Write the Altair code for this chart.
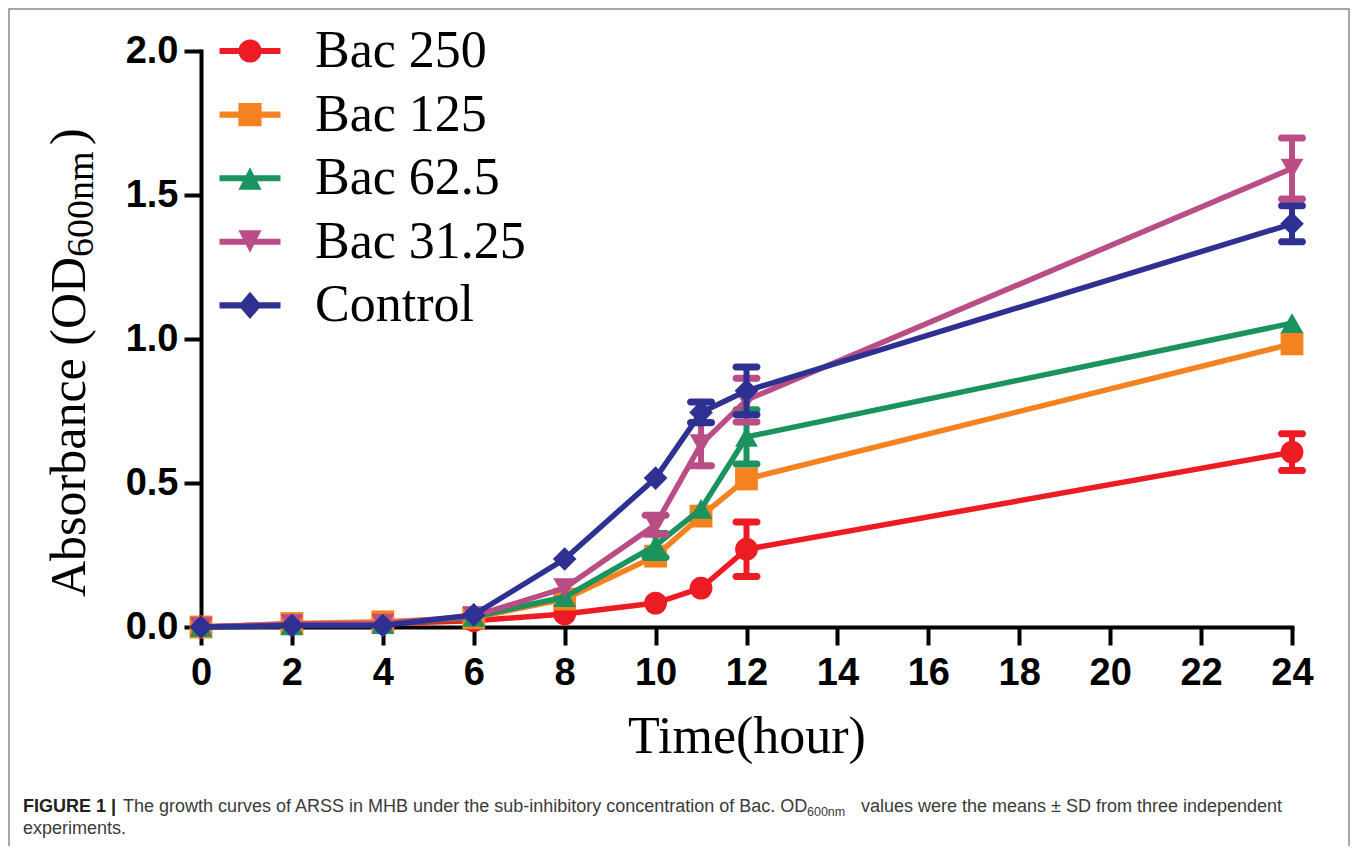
import altair as alt
import pandas as pd

# ---------------- data ----------------
time_h = [0, 2, 4, 6, 8, 10, 11, 12, 24]
series_names = ["Bac 250", "Bac 125", "Bac 62.5", "Bac 31.25", "Control"]

bac250 = [0.0, 0.010, 0.012, 0.022, 0.045, 0.083, 0.135, 0.270, 0.607]
bac250_sd = [0, 0, 0, 0, 0, 0, 0, 0.095, 0.064]
bac125 = [0.0, 0.012, 0.018, 0.032, 0.097, 0.246, 0.385, 0.514, 0.983]
bac125_sd = [0, 0, 0, 0, 0, 0, 0, 0, 0]
bac62 = [0.0, 0.006, 0.010, 0.035, 0.104, 0.283, 0.410, 0.660, 1.055]
bac62_sd = [0, 0, 0, 0, 0, 0.042, 0, 0.094, 0]
bac31 = [0.0, 0.010, 0.012, 0.038, 0.135, 0.355, 0.635, 0.788, 1.592]
bac31_sd = [0, 0, 0, 0, 0, 0.033, 0.075, 0.076, 0.106]
control = [0.0, 0.005, 0.005, 0.042, 0.236, 0.517, 0.745, 0.820, 1.400]
control_sd = [0, 0, 0, 0, 0, 0, 0.036, 0.083, 0.0625]

x_ticks = list(range(0, 25, 2))
y_ticks = [0.0, 0.5, 1.0, 1.5, 2.0]

colors = ["#ED1C24", "#F58220", "#1A935E", "#BA4D86", "#2E3192"]
shapes = ["circle", "square", "triangle-up", "triangle-down", "diamond"]

# legend glyphs: line + marker (unit square paths)
bar = "M-1,-0.1 H1 V0.1 H-1 Z "
r = 0.38
legend_paths = [
    bar + f"M{r},0 A{r},{r} 0 1,1 {-r},0 A{r},{r} 0 1,1 {r},0 Z",
    bar + f"M{-r},{-r} H{r} V{r} H{-r} Z",
    bar + f"M0,-0.36 L{r},0.38 L{-r},0.38 Z",
    bar + f"M{-r},-0.38 L{r},-0.38 L0,0.36 Z",
    bar + f"M0,-0.45 L{r},0 L0,0.45 L{-r},0 Z",
]

values = [bac250, bac125, bac62, bac31, control]
sds = [bac250_sd, bac125_sd, bac62_sd, bac31_sd, control_sd]

rows = []
for name, vals, sd in zip(series_names, values, sds):
    for t, v, s in zip(time_h, vals, sd):
        rows.append({"series": name, "t": t, "od": v, "sd": s, "lo": v - s, "hi": v + s})
df = pd.DataFrame(rows)
one = pd.DataFrame({"k": [0]})

# ---------------- scales / encodings ----------------
xs = alt.Scale(domain=[0, 24], nice=False, zero=False)
ys = alt.Scale(domain=[0, 2], nice=False)
x_axis = alt.Axis(values=x_ticks, format="d", title="Time(hour)", labelFlush=False,
                  titleFont="Liberation Serif", titleFontSize=52, titleFontWeight="normal",
                  titleColor="black", titleBaseline="alphabetic", titleY=125,
                  tickSize=18, labelPadding=9)
y_axis = alt.Axis(values=y_ticks, format=".1f", title=None, tickSize=17, labelPadding=6,
                  labelFlush=False)
X = alt.X("t:Q", scale=xs, axis=x_axis)
Y = alt.Y("od:Q", scale=ys, axis=y_axis)

layers = []

# frame around the whole figure
layers.append(alt.Chart(one).mark_rect(fill=None, stroke="#8a8a8a", strokeWidth=1.5).encode(
    x=alt.value(-192), x2=alt.value(1148), y=alt.value(-42), y2=alt.value(830)))

for name, col, shp in zip(series_names, colors, shapes):
    base = alt.Chart(df).transform_filter(alt.datum.series == name)
    eb = base.transform_filter("datum.sd > 0")
    layers.append(eb.mark_rule(strokeWidth=6, color=col).encode(
        x=X, y=alt.Y("lo:Q", scale=ys, axis=y_axis), y2="hi:Q"))
    layers.append(eb.mark_tick(orient="horizontal", size=28, thickness=7, cornerRadius=3.5,
                               color=col, opacity=1).encode(
        x=X, y=alt.Y("lo:Q", scale=ys, axis=y_axis)))
    layers.append(eb.mark_tick(orient="horizontal", size=28, thickness=7, cornerRadius=3.5,
                               color=col, opacity=1).encode(
        x=X, y=alt.Y("hi:Q", scale=ys, axis=y_axis)))
    layers.append(base.mark_line(strokeWidth=5.5, color=col).encode(x=X, y=Y))
    layers.append(base.mark_point(shape=shp, filled=True, size=560 if shp == "diamond" else 520,
                                  color=col, opacity=1).encode(x=X, y=Y))

# legend (from an empty layer; entries come from the explicit scale domain)
leg = alt.Legend(title=None, orient="none", legendX=18.5, legendY=-30.5, padding=0,
                 symbolSize=3721, symbolStrokeWidth=0, symbolOpacity=1,
                 labelFont="Liberation Serif", labelFontSize=52, labelColor="black",
                 labelOffset=34.5, labelLimit=500, rowPadding=6.6)
layers.append(alt.Chart(df).transform_filter("datum.t < 0").mark_point(filled=True, opacity=1).encode(
    x=X, y=Y,
    fill=alt.Fill("series:N", scale=alt.Scale(domain=series_names, range=colors), legend=leg),
    shape=alt.Shape("series:N", scale=alt.Scale(domain=series_names, range=legend_paths), legend=leg),
))

# y-axis title with subscript
layers.append(alt.Chart(one).mark_text(text="Absorbance (OD", font="Liberation Serif", fontSize=50,
                                       angle=270, align="left", baseline="alphabetic", color="black").encode(
    x=alt.value(-116), y=alt.value(546)))
layers.append(alt.Chart(one).mark_text(text="600nm", font="Liberation Serif", fontSize=38,
                                       angle=270, align="left", baseline="alphabetic", color="black").encode(
    x=alt.value(-108), y=alt.value(206)))
layers.append(alt.Chart(one).mark_text(text=")", font="Liberation Serif", fontSize=50,
                                       angle=270, align="left", baseline="alphabetic", color="black").encode(
    x=alt.value(-116), y=alt.value(94)))

# caption
cap_font = "Liberation Sans"
layers.append(alt.Chart(one).mark_text(text="FIGURE 1 |", font=cap_font, fontSize=18, fontWeight="bold",
                                       align="left", baseline="alphabetic", color="#222222").encode(
    x=alt.value(-178), y=alt.value(761)))
layers.append(alt.Chart(one).mark_text(
    text="The growth curves of ARSS in MHB under the sub-inhibitory concentration of Bac. OD",
    font=cap_font, fontSize=18, align="left", baseline="alphabetic", color="#3a3a3a").encode(
    x=alt.value(-78), y=alt.value(761)))
layers.append(alt.Chart(one).mark_text(text="600nm", font=cap_font, fontSize=12.5, align="left",
                                       baseline="alphabetic", color="#3a3a3a").encode(
    x=alt.value(606), y=alt.value(765)))
layers.append(alt.Chart(one).mark_text(
    text="values were the means \u00b1 SD from three independent",
    font=cap_font, fontSize=18, align="left", baseline="alphabetic", color="#3a3a3a").encode(
    x=alt.value(660), y=alt.value(761)))
layers.append(alt.Chart(one).mark_text(text="experiments.", font=cap_font, fontSize=18, align="left",
                                       baseline="alphabetic", color="#3a3a3a").encode(
    x=alt.value(-178), y=alt.value(783)))

chart = alt.layer(*layers).properties(
    width=1091, height=576,
    autosize=alt.AutoSizeParams(type="none"),
    padding={"left": 193, "top": 43, "right": 58, "bottom": 219},
    background="white",
).configure_view(stroke=None).configure_axis(
    grid=False, domainColor="black", domainWidth=4, domainCap="square",
    tickColor="black", tickWidth=4, labelFont="Liberation Sans", labelFontWeight="bold",
    labelFontSize=38, labelColor="black",
)

chart.save("out.html", embed_options={"renderer": "svg", "actions": False})
